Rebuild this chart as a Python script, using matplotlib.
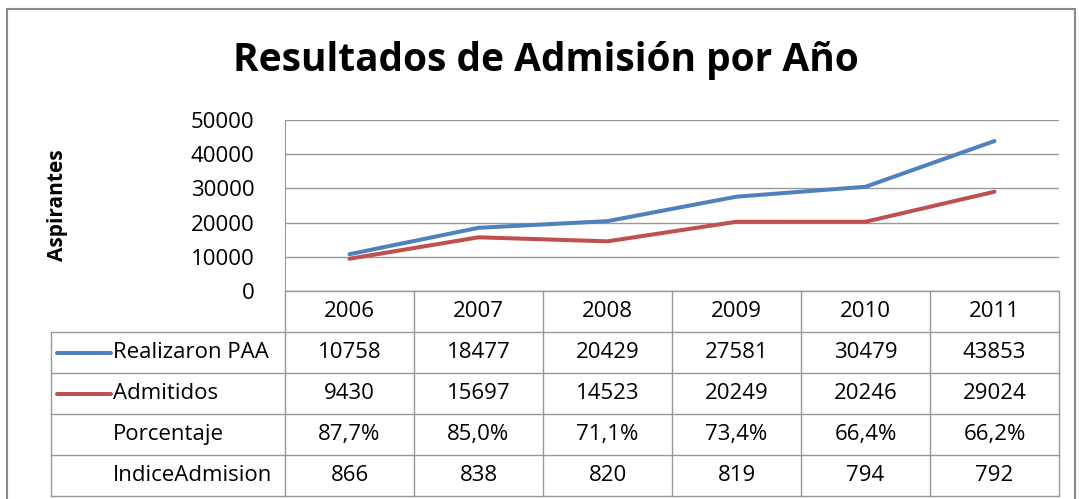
import matplotlib
matplotlib.use("Agg")
import matplotlib.pyplot as plt
from matplotlib.lines import Line2D
from matplotlib.patches import Rectangle

# ===============================
# datos
# ===============================
years = ["2006", "2007", "2008", "2009", "2010", "2011"]
realizaron = [10758, 18477, 20429, 27581, 30479, 43853]
admitidos = [9430, 15697, 14523, 20249, 20246, 29024]
porcentaje = ["87,7%", "85,0%", "71,1%", "73,4%", "66,4%", "66,2%"]
indice = [866, 838, 820, 819, 794, 792]

row_labels = ["Realizaron PAA", "Admitidos", "Porcentaje", "IndiceAdmision"]
row_colors = ["#4F81BD", "#C0504D", None, None]

plt.rcParams['font.family'] = ['Open Sans', 'DejaVu Sans']

W, H = 1079, 499
fig = plt.figure(figsize=(W / 100, H / 100), dpi=100)

def px(x0, y0, x1, y1):
    return [x0 / W, 1 - y1 / H, (x1 - x0) / W, (y1 - y0) / H]

grid_c = "#999999"

# marco exterior
fig.patches.append(Rectangle((7 / W, -0.01), (1075 - 7) / W, 1 - 9 / H + 0.01,
                             transform=fig.transFigure, fill=False,
                             edgecolor="#8a8a8a", linewidth=1.5))

fig.text(546 / W, 1 - 61 / H, "Resultados de Admisión por Año",
         ha="center", va="center", fontsize=28, fontweight="bold")

# ===============================
# gráfico de líneas
# ===============================
ax = fig.add_axes(px(285, 120, 1059, 291))
x = list(range(len(years)))
ax.plot(x, realizaron, color="#4F81BD", linewidth=2.9, solid_capstyle="round")
ax.plot(x, admitidos, color="#C0504D", linewidth=2.9, solid_capstyle="round")
ax.set_xlim(-0.5, len(years) - 0.5)
ax.set_ylim(0, 50000)
ax.set_yticks(range(0, 50001, 10000))
ax.yaxis.grid(True, color=grid_c, linewidth=1)
ax.set_xticks([])
ax.tick_params(axis="y", length=0, pad=22, labelsize=16)
for s in ["top", "right", "bottom"]:
    ax.spines[s].set_visible(False)
ax.spines["left"].set_color(grid_c)
ax.set_ylabel("Aspirantes", fontsize=15, fontweight="bold")
ax.yaxis.set_label_coords(-(285 - 68) / (1059 - 285), 0.5)

# ===============================
# tabla de datos
# ===============================
colw = (1059 - 285) / len(years)
lab_w = (285 - 51) / colw
tx = fig.add_axes(px(51, 291, 1059, 496))
tx.set_xlim(-0.5 - lab_w, len(years) - 0.5)
tx.set_ylim(5, 0)
tx.axis("off")

lk = dict(color=grid_c, linewidth=1, clip_on=False)
# lineas horizontales
tx.plot([-0.5, len(years) - 0.5], [0, 0], **lk)
for r in range(1, 6):
    tx.plot([-0.5 - lab_w, len(years) - 0.5], [r, r], **lk)
# lineas verticales
tx.plot([-0.5 - lab_w, -0.5 - lab_w], [1, 5], **lk)
for c in range(len(years) + 1):
    tx.plot([c - 0.5, c - 0.5], [0, 5], **lk)

fs = 16
for i, y in enumerate(years):
    tx.text(i, 0.5, y, ha="center", va="center", fontsize=fs)

rows = [[str(v) for v in realizaron], [str(v) for v in admitidos],
        porcentaje, [str(v) for v in indice]]
txt_x = -0.5 - lab_w + (113 - 51) / colw
for r, (lab, col, vals) in enumerate(zip(row_labels, row_colors, rows)):
    yc = r + 1.5
    if col:
        tx.add_line(Line2D([-0.5 - lab_w + 6 / colw, -0.5 - lab_w + 60 / colw],
                           [yc, yc], color=col, linewidth=2.9,
                           solid_capstyle="round"))
    tx.text(txt_x, yc, lab, ha="left", va="center", fontsize=fs)
    for i, v in enumerate(vals):
        tx.text(i, yc, v, ha="center", va="center", fontsize=fs)

fig.savefig("out.png", dpi=100)
